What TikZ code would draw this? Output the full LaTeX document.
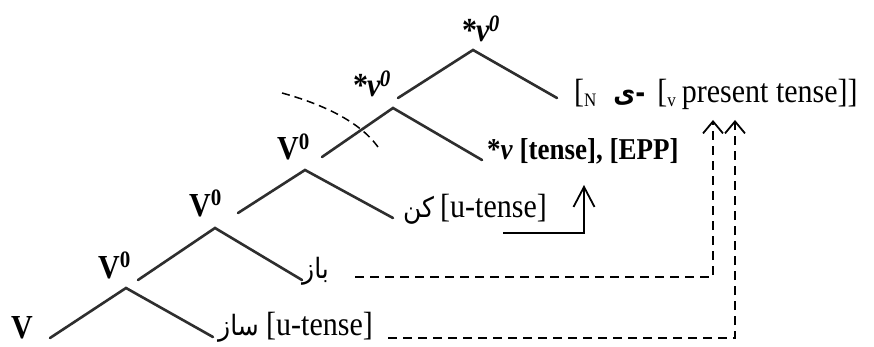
\documentclass[tikz,border=0pt]{standalone}
\usepackage{graphicx}
\usepackage{fontspec}
\setmainfont{Liberation Serif}
\newfontfamily\arabicfont[Script=Arabic]{DejaVu Sans}
\TeXXeTstate=1
\usetikzlibrary{arrows.meta}
\newcommand\vstretch[1]{\scalebox{1}[1.12]{#1}}
\begin{document}
\begin{tikzpicture}[x=1pt,y=-1pt,
  branch/.style={line width=2.6pt, draw=black!82, line cap=round},
  catlab/.style={inner sep=0pt, anchor=base west, font=\fontsize{30}{36}\selectfont\bfseries},
  termlab/.style={inner sep=0pt, anchor=base west, font=\fontsize{30}{36}\selectfont},
  arlab/.style={inner sep=0pt, anchor=base west, font=\fontsize{25}{30}\selectfont\arabicfont},
  dashconn/.style={line width=1.8pt, dash pattern=on 9pt off 6pt, -{Straight Barb[length=12pt,width=20pt]}},
  solidconn/.style={line width=1.8pt, -{Straight Barb[length=20pt,width=21pt]}},
  arcline/.style={line width=1.5pt, dash pattern=on 8pt off 5pt}
]
\useasboundingbox (0,0) rectangle (874,347);
\fill[white] (0,0) rectangle (874,347);

% tree points
\coordinate (a1) at (473,50);  \coordinate (l1) at (398,98);  \coordinate (r1) at (557,98);
\coordinate (a2) at (393,108); \coordinate (l2) at (322,157); \coordinate (r2) at (482,160);
\coordinate (a3) at (305,170); \coordinate (l3) at (238,213); \coordinate (r3) at (393,218);
\coordinate (a4) at (215,228); \coordinate (l4) at (138,280); \coordinate (r4) at (302,280);
\coordinate (a5) at (126,288); \coordinate (l5) at (50,338);  \coordinate (r5) at (213,337);

\draw[branch] (l1) -- (a1) -- (r1);
\draw[branch] (l2) -- (a2) -- (r2);
\draw[branch] (l3) -- (a3) -- (r3);
\draw[branch] (l4) -- (a4) -- (r4);
\draw[branch] (l5) -- (a5) -- (r5);

% category labels
\node[catlab] (c1) at (462,42) {\vstretch{*\kern-1pt\textit{v}\textsuperscript{\kern-1pt\textit{0}}}};
\node[catlab] (c2) at (353,97) {\vstretch{*\kern-1pt\textit{v}\textsuperscript{\kern-1pt\textit{0}}}};
\node[catlab] (c3) at (277,160) {\vstretch{V\textsuperscript{0}}};
\node[catlab] (c4) at (189,216) {\vstretch{V\textsuperscript{0}}};
\node[catlab] (c5) at (98,278) {\vstretch{V\textsuperscript{0}}};
\node[catlab] (c6) at (11,338) {\vstretch{V}};

% terminal labels
\node[termlab] (t1) at (574,103) {\vstretch{[\raisebox{-3pt}{\fontsize{17}{17}\selectfont N}\hspace{17pt}{\arabicfont\bfseries\fontsize{24}{24}\selectfont ی\kern0pt -}\hspace{12pt}[\raisebox{-3pt}{\fontsize{17}{17}\selectfont v}\hspace{6pt}present tense]]}};
\node[termlab, font=\fontsize{27}{32}\selectfont\bfseries] (t2) at (487,160) {\vstretch{*\textit{v} [tense], [EPP]}};
\node[arlab] (t3a) at (403,218) {\vstretch{\beginR کن\endR}};
\node[termlab] (t3) at (440,218) {\vstretch{[u-tense]}};
\node[arlab] (t4) at (302,278) {\vstretch{\beginR باز\endR}};
\node[arlab] (t5a) at (218,335) {\vstretch{\beginR ساز\endR}};
\node[termlab] (t5) at (266,335) {\vstretch{[u-tense]}};

% dashed arc
\coordinate (arcs) at (282,93);
\coordinate (arce) at (380,150);
\draw[arcline] (arcs) .. controls (322,104) and (362,122) .. (arce);

% connectors
\coordinate (s1s) at (503,233); \coordinate (s1e) at (584,185);
\draw[solidconn] (s1s) -| (s1e);
\coordinate (d1s) at (355,277); \coordinate (d1e) at (713,120);
\draw[dashconn] (d1s) -| (d1e);
\coordinate (d2s) at (388,338); \coordinate (d2e) at (735,120);
\draw[dashconn] (d2s) -| (d2e);
\end{tikzpicture}
\end{document}
